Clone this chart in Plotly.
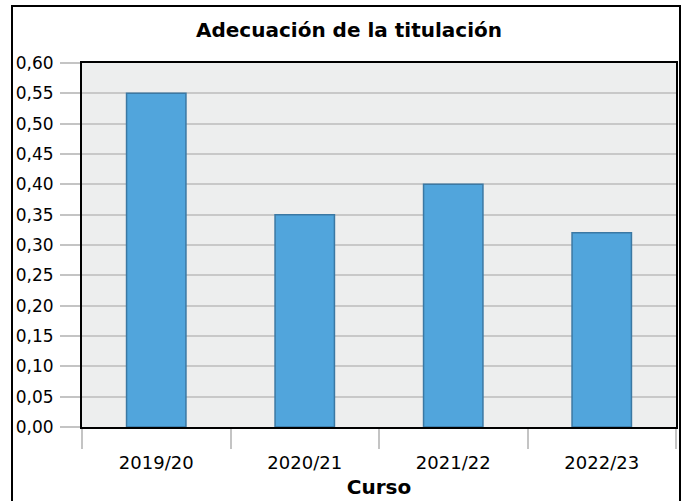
import plotly.graph_objects as go

cursos = ["2019/20", "2020/21", "2021/22", "2022/23"]
valores = [0.55, 0.35, 0.40, 0.32]
titulo = "Adecuación de la titulación"
eje_x = "Curso"

FONT = "DejaVu Sans"

fig = go.Figure(go.Bar(
    x=cursos, y=valores, width=0.4,
    marker=dict(color="#51A5DC", line=dict(color="#3B78A3", width=1.5)),
))

# plot area: x 82..676, y 63..427
L, R, T, B = 82, 676, 63, 427
W, H = 689, 501
pw, ph = R - L, B - T
fig.add_shape(type="rect", xref="paper", yref="paper",
              x0=(12 - L) / pw, x1=(680 - L) / pw,
              y0=(B - 520) / ph, y1=(B - 6) / ph,
              line=dict(color="black", width=2), layer="below")

fig.update_layout(
    width=W, height=H,
    margin=dict(l=L, r=W - R, t=T, b=H - B),
    paper_bgcolor="white", plot_bgcolor="#EDEEEE",
    separators=",.",
    showlegend=False,
    title=dict(text=f"<b>{titulo}</b>", x=(349) / W, xanchor="center",
               y=1 - 30 / H, yanchor="middle",
               font=dict(family=FONT, size=20, color="black")),
    font=dict(family=FONT, color="black"),
)
fig.update_yaxes(range=[0, 0.6], dtick=0.05, tickformat=".2f",
                 ticks="outside", ticklen=20, tickcolor="#C4C4C4", tickwidth=2,
                 showgrid=True, gridcolor="#C8C8C8", gridwidth=2,
                 showline=True, linecolor="black", linewidth=2, mirror=True,
                 zeroline=False, tickfont=dict(size=17, family=FONT),
                 ticklabelstandoff=3, automargin=False)
fig.update_xaxes(tickson="boundaries", ticks="outside", ticklen=20,
                 tickcolor="#C4C4C4", tickwidth=2,
                 showline=True, linecolor="black", linewidth=2, mirror=True,
                 showgrid=False, tickfont=dict(size=18, family=FONT),
                 ticklabelstandoff=18, automargin=False,
                 title=dict(text=f"<b>{eje_x}</b>", font=dict(size=20, family=FONT),
                            standoff=8))

fig.write_html("out.html", config={"displayModeBar": False},
               post_script="document.body.style.margin='0';document.body.style.padding='0';")
